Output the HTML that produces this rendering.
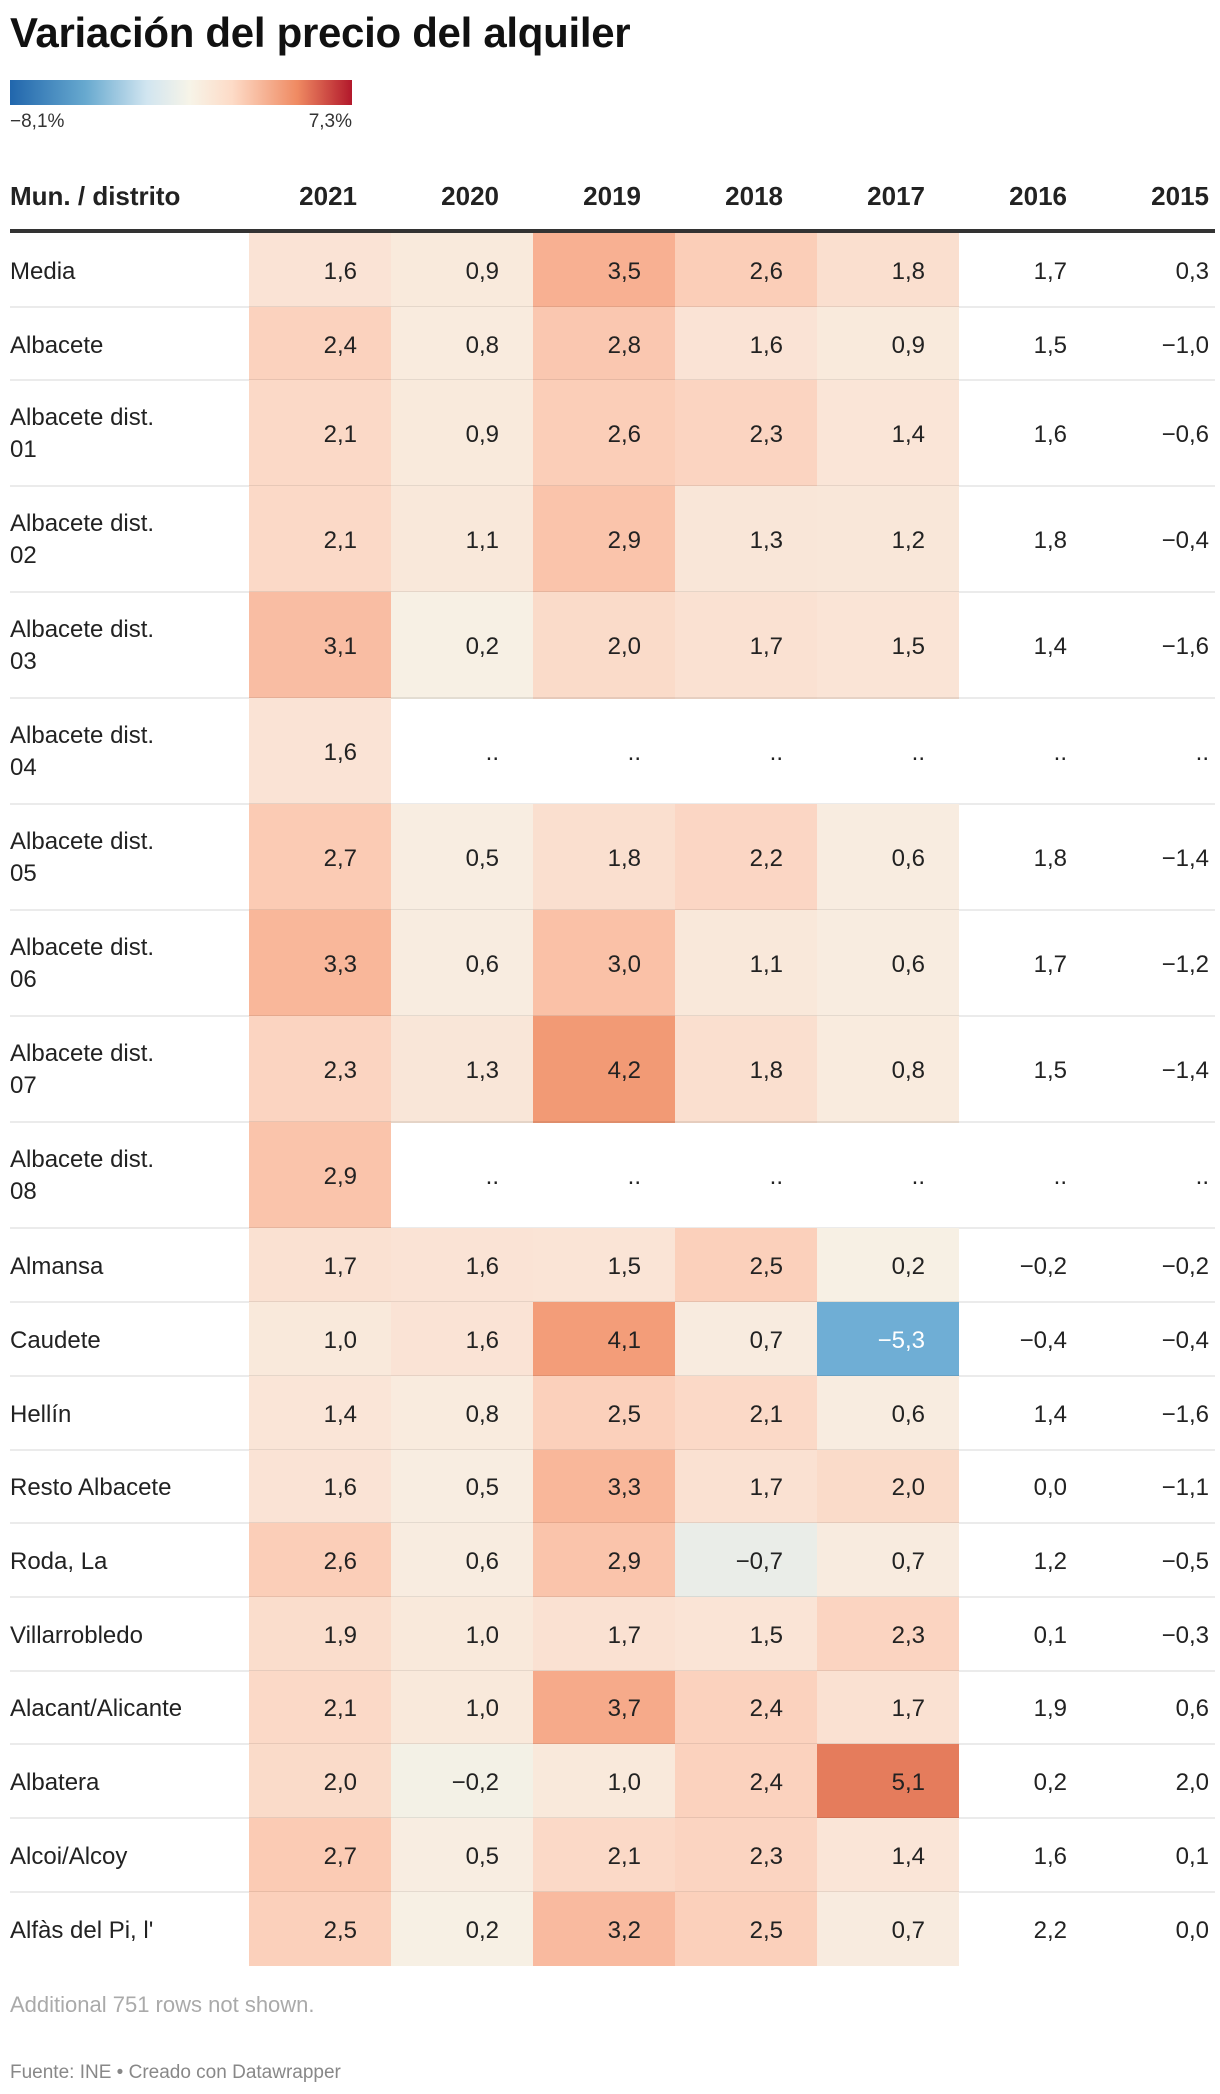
<!DOCTYPE html>
<html><head><meta charset="utf-8">
<style>
body{margin:0;background:#fff;font-family:"Liberation Sans",sans-serif;color:#222;}
#wrap{position:relative;width:1220px;height:2094px;overflow:hidden;}
.abs{position:absolute;}
.title{left:10px;top:9px;font-size:42px;font-weight:bold;letter-spacing:-0.3px;color:#111;}
.hdr{top:181px;font-size:26px;font-weight:bold;color:#222;}
.lab{font-size:24px;line-height:32px;color:#222;}
.val{font-size:24px;color:#222;text-align:right;}
</style></head>
<body>
<div id="wrap">
<div class="abs title">Variación del precio del alquiler</div>
<div class="abs" style="left:10px;top:80px;width:342px;height:25px;background:linear-gradient(to right,#2166ac 0%,#67a9cf 22%,#d1e5f0 40%,#f7f4e8 52.6%,#fddbc7 65%,#ef8a62 84%,#b2182b 100%);"></div>
<div class="abs" style="left:10px;top:111px;font-size:19px;color:#333;">−8,1%</div>
<div class="abs" style="left:292px;top:111px;font-size:19px;color:#333;width:60px;text-align:right;">7,3%</div>
<div class="abs hdr" style="left:10px;">Mun. / distrito</div>
<div id="hdrs"></div>
<div class="abs" style="left:10px;top:229px;width:1205px;height:4px;background:#333;"></div>
<div id="rows"></div>
<div class="abs" style="left:10px;top:1992px;font-size:22px;color:#aaa;">Additional 751 rows not shown.</div>
<div class="abs" style="left:10px;top:2062px;font-size:19px;color:#888;">Fuente: INE • Creado con Datawrapper</div>
</div>
<script>
const years=["2021","2020","2019","2018","2017","2016","2015"];
const names=["Media","Albacete","Albacete dist.\n01","Albacete dist.\n02","Albacete dist.\n03","Albacete dist.\n04","Albacete dist.\n05","Albacete dist.\n06","Albacete dist.\n07","Albacete dist.\n08","Almansa","Caudete","Hellín","Resto Albacete","Roda, La","Villarrobledo","Alacant/Alicante","Albatera","Alcoi/Alcoy","Alfàs del Pi, l'"];
const v2021=[1.6,2.4,2.1,2.1,3.1,1.6,2.7,3.3,2.3,2.9,1.7,1.0,1.4,1.6,2.6,1.9,2.1,2.0,2.7,2.5];
const v2020=[0.9,0.8,0.9,1.1,0.2,null,0.5,0.6,1.3,null,1.6,1.6,0.8,0.5,0.6,1.0,1.0,-0.2,0.5,0.2];
const v2019=[3.5,2.8,2.6,2.9,2.0,null,1.8,3.0,4.2,null,1.5,4.1,2.5,3.3,2.9,1.7,3.7,1.0,2.1,3.2];
const v2018=[2.6,1.6,2.3,1.3,1.7,null,2.2,1.1,1.8,null,2.5,0.7,2.1,1.7,-0.7,1.5,2.4,2.4,2.3,2.5];
const v2017=[1.8,0.9,1.4,1.2,1.5,null,0.6,0.6,0.8,null,0.2,-5.3,0.6,2.0,0.7,2.3,1.7,5.1,1.4,0.7];
const v2016=[1.7,1.5,1.6,1.8,1.4,null,1.8,1.7,1.5,null,-0.2,-0.4,1.4,0.0,1.2,0.1,1.9,0.2,1.6,2.2];
const v2015=[0.3,-1.0,-0.6,-0.4,-1.6,null,-1.4,-1.2,-1.4,null,-0.2,-0.4,-1.6,-1.1,-0.5,-0.3,0.6,2.0,0.1,0.0];
const series=[v2021,v2020,v2019,v2018,v2017,v2016,v2015];
const colored=[true,true,true,true,true,false,false];
const scaleVals=[-8.1,-5.3,-2.5,0,1.6,2.6,3.5,4.2,5.1,7.3];
const scaleCols=[[33,102,172],[111,174,213],[200,224,236],[247,242,230],[250,227,213],[251,206,184],[248,176,146],[242,154,117],[229,124,92],[178,24,43]];
function color(v){
  if(v<=scaleVals[0])return scaleCols[0];
  for(let i=1;i<scaleVals.length;i++){if(v<=scaleVals[i]){const t=(v-scaleVals[i-1])/(scaleVals[i]-scaleVals[i-1]);return scaleCols[i-1].map((c,k)=>Math.round(c+(scaleCols[i][k]-c)*t));}}
  return scaleCols[scaleCols.length-1];
}
const colX=[249,391,533,675,817,959,1073];
const colW=142;
function colRight(i){return i<6?colX[i]+colW-34:1209;}
const hd=document.getElementById('hdrs');
years.forEach((y,i)=>{
  const d=document.createElement('div');
  
  
  d.className='abs hdr';d.style.left=(colRight(i)-100)+'px';d.style.width='100px';d.style.textAlign='right';d.textContent=y;hd.appendChild(d);
});
const rowsEl=document.getElementById('rows');
let y=233;
names.forEach((n,r)=>{
  const dbl=n.indexOf('\n')>=0;const h=dbl?106:73.7;
  const lab=document.createElement('div');
  
  
  lab.className='abs lab';lab.style.left='10px';lab.style.top=(y+h/2-(dbl?31:14))+'px';lab.innerHTML=n.replace('\n','<br>');rowsEl.appendChild(lab);
  series.forEach((s,i)=>{
    const v=s[r];
    if(colored[i]&&v!==null){
      const c=color(v);
      const cell=document.createElement('div');
      
      
      cell.className='abs';cell.style.left=colX[i]+'px';cell.style.top=y+'px';cell.style.width=colW+'px';cell.style.height=(h+0.5)+'px';cell.style.background='rgb('+c.join(',')+')';rowsEl.appendChild(cell);
    }
    const t=document.createElement('div');
    
    
    t.className='abs val';t.style.left=(colRight(i)-100)+'px';t.style.width='100px';t.style.top=(y+h/2-12)+'px';
    t.textContent=v===null?'..':(v<0?'−':'')+Math.abs(v).toFixed(1).replace('.',',');
    if(v!==null&&colored[i]&&v<-4)t.style.color='#fff';
    rowsEl.appendChild(t);
  });
  y+=h;
  if(r<names.length-1){
    const l=document.createElement('div');
    
    
    l.className='abs';l.style.left='10px';l.style.top=(y-1)+'px';l.style.width='1205px';l.style.height='2px';l.style.background='rgba(0,0,0,0.08)';rowsEl.appendChild(l);
  }
});
</script>
</body></html>
